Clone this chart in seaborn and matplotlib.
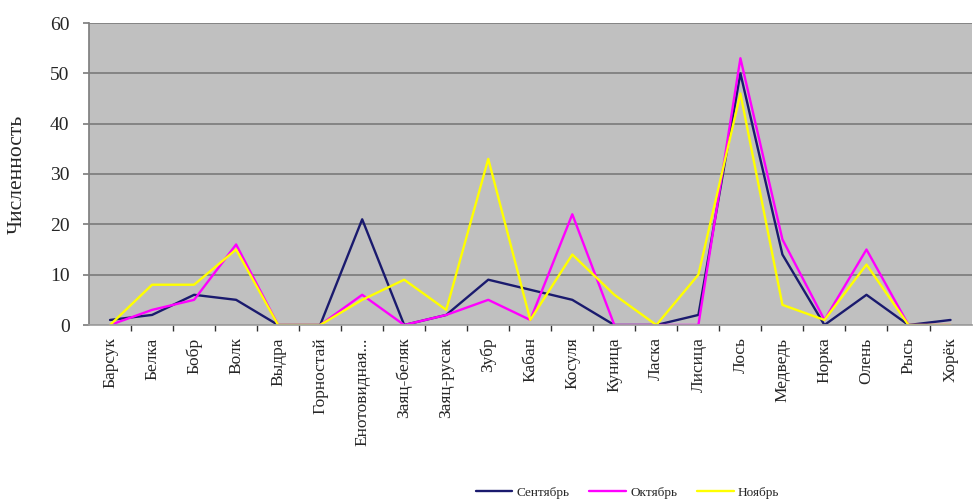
import matplotlib
matplotlib.use("Agg")
import matplotlib.pyplot as plt
import seaborn as sns
import pandas as pd
from matplotlib.ticker import FixedLocator

animals = ["Барсук", "Белка", "Бобр", "Волк", "Выдра", "Горностай", "Енотовидная...",
           "Заяц-беляк", "Заяц-русак", "Зубр", "Кабан", "Косуля", "Куница", "Ласка",
           "Лисица", "Лось", "Медведь", "Норка", "Олень", "Рысь", "Хорёк"]
september = [1, 2, 6, 5, 0, 0, 21, 0, 2, 9, 7, 5, 0, 0, 2, 50, 14, 0, 6, 0, 1]
october = [0, 3, 5, 16, 0, 0, 6, 0, 2, 5, 1, 22, 0, 0, 0, 53, 17, 1, 15, 0, 0]
november = [0, 8, 8, 15, 0, 0, 5, 9, 3, 33, 1, 14, 6, 0, 10, 46, 4, 1, 12, 0, 0]
months = ["Сентябрь", "Октябрь", "Ноябрь"]
colors = ["#1a1a6e", "#ff00ff", "#ffff00"]

rows = []
for month, vals in zip(months, [september, october, november]):
    for i, v in enumerate(vals):
        rows.append({"pos": i, "animal": animals[i], "month": month, "value": v})
df = pd.DataFrame(rows)

sns.set_theme(style="white")
plt.rcParams["font.family"] = ["Liberation Serif", "DejaVu Serif"]

fig = plt.figure(figsize=(9.73, 5.0), dpi=100)
ax = fig.add_axes([0.0915, 0.35, 0.907, 0.604])
ax.set_facecolor("#c0c0c0")

sns.lineplot(data=df, x="pos", y="value", hue="month", hue_order=months,
             palette=colors, linewidth=1.7, ax=ax, legend=True)

ax.set_xlim(-0.5, len(animals) - 0.5)
ax.set_ylim(0, 60)
ax.set_yticks(range(0, 61, 10))
ax.yaxis.grid(True, color="#7a7a7a", linewidth=1.2)
ax.set_axisbelow(True)
ax.tick_params(axis="y", labelsize=14, length=4, color="#808080", direction="out",
               left=True, pad=10)

ax.xaxis.set_major_locator(FixedLocator(list(range(len(animals)))))
ax.set_xticklabels(animals, rotation=90, fontsize=12.5)
ax.xaxis.set_minor_locator(FixedLocator([i + 0.5 for i in range(len(animals) - 1)]))
ax.tick_params(axis="x", which="major", length=0, pad=9)
ax.tick_params(axis="x", which="minor", length=4, color="#333333", direction="out",
               bottom=True)

for side in ["top", "right"]:
    ax.spines[side].set_visible(False)
ax.spines["left"].set_color("#808080")
ax.spines["bottom"].set_color("#a0a0a0")

ax.set_xlabel("")
ax.set_ylabel("Численность", fontsize=15.5)
ax.yaxis.set_label_coords(-0.071, 0.5)

handles, labels = ax.get_legend_handles_labels()
ax.legend(handles, labels, loc="center", bbox_to_anchor=(0.61, -0.555), ncol=3,
          frameon=False, fontsize=9.5, handlelength=2.8, handletextpad=0.3,
          columnspacing=1.5)

fig.savefig("out.png", dpi=100, facecolor="white")
